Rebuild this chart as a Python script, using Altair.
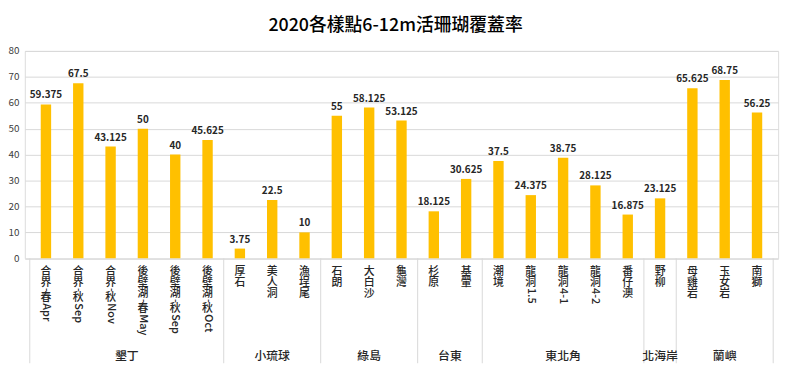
import altair as alt
import pandas as pd

title_text = "2020各樣點6-12m活珊瑚覆蓋率"

sites = ["合界-春Apr", "合界-秋Sep", "合界-秋Nov", "後壁湖-春May", "後壁湖-秋Sep", "後壁湖-秋Oct",
         "厚石", "美人洞", "漁埕尾",
         "石朗", "大白沙", "龜灣",
         "杉原", "基翬",
         "潮境", "龍洞1.5", "龍洞4-1", "龍洞4-2", "番仔澳",
         "野柳",
         "母雞岩", "玉女岩", "南獅"]
values = [59.375, 67.5, 43.125, 50, 40, 45.625,
          3.75, 22.5, 10,
          55, 58.125, 53.125,
          18.125, 30.625,
          37.5, 24.375, 38.75, 28.125, 16.875,
          23.125,
          65.625, 68.75, 56.25]
group_names = ["墾丁", "小琉球", "綠島", "台東", "東北角", "北海岸", "蘭嶼"]
group_sizes = [6, 3, 3, 2, 5, 1, 3]
y_ticks = [0, 10, 20, 30, 40, 50, 60, 70, 80]

FONT = "Noto Sans CJK TC"
W, H = 761, 209.5
N = len(sites)
LABEL_FS = 11

# bar table
bars = pd.DataFrame({
    "site": sites,
    "value": values,
    "x": [i + 0.5 for i in range(N)],
    "label": [f"{v:g}" for v in values],
})

# vertical (East-Asian style) site labels: CJK upright, latin runs rotated
wtab = {"A": .64, "p": .61, "r": .41, "S": .55, "e": .56, "N": .74, "o": .6, "v": .52,
        "M": .89, "a": .56, "y": .52, "O": .78, "c": .48, "t": .35, ".": .27, "-": .32}


def is_cjk(ch):
    return ord(ch) > 0x2E80


seg_rows = []
for i, s in enumerate(sites):
    off = 0.0
    run = ""
    for ch in s + "\0":
        if ch != "\0" and not is_cjk(ch):
            run += ch
            continue
        if run:
            seg_rows.append({"x": i + 0.5, "t": run, "kind": "latin", "ypx": H + 8 + off})
            off += sum(wtab.get(c, .57) for c in run) * LABEL_FS + 1
            run = ""
        if ch == "\0":
            break
        seg_rows.append({"x": i + 0.5, "t": ch, "kind": "cjk", "ypx": H + 8 + off})
        off += LABEL_FS
segs = pd.DataFrame(seg_rows)

# groups
bounds = [0]
for g in group_sizes:
    bounds.append(bounds[-1] + g)
groups = pd.DataFrame({
    "name": group_names,
    "xc": [(bounds[k] + bounds[k + 1]) / 2 for k in range(len(group_names))],
})
seps = pd.DataFrame({"b": bounds})

xscale = alt.Scale(domain=[0, N], nice=False, zero=False)
TXT = "#262626"

bar_layer = alt.Chart(bars).mark_bar(color="#FFC000", size=10.5).encode(
    x=alt.X("x:Q", scale=xscale, axis=None),
    y=alt.Y("value:Q", scale=alt.Scale(domain=[0, 80], nice=False),
            axis=alt.Axis(values=y_ticks, title=None, ticks=False, domain=False,
                          grid=True, gridColor="#d9d9d9", labelFont=FONT,
                          labelFontSize=10, labelColor="#404040", labelPadding=6)),
)
val_layer = alt.Chart(bars).mark_text(
    font=FONT, fontSize=10, fontWeight="bold", color=TXT,
    baseline="alphabetic", dy=-6
).encode(
    x=alt.X("x:Q", scale=xscale, axis=None),
    y=alt.Y("value:Q", scale=alt.Scale(domain=[0, 80], nice=False), axis=None),
    text="label:N",
)
cjk_layer = alt.Chart(segs).transform_filter(alt.datum.kind == "cjk").mark_text(
    font=FONT, fontSize=LABEL_FS, fontWeight=500, color=TXT, align="center", baseline="top"
).encode(
    x=alt.X("x:Q", scale=xscale, axis=None),
    y=alt.Y("ypx:Q", scale=None, axis=None),
    text="t:N",
)
lat_layer = alt.Chart(segs).transform_filter(alt.datum.kind == "latin").mark_text(
    font=FONT, fontSize=LABEL_FS, fontWeight=500, color=TXT, align="left", baseline="middle", angle=90
).encode(
    x=alt.X("x:Q", scale=xscale, axis=None),
    y=alt.Y("ypx:Q", scale=None, axis=None),
    text="t:N",
)
sep_layer = alt.Chart(seps).mark_rule(color="#d9d9d9", strokeWidth=1).encode(
    x=alt.X("b:Q", scale=xscale, axis=None),
    y=alt.value(H),
    y2=alt.value(H + 106),
)
grp_layer = alt.Chart(groups).mark_text(
    font=FONT, fontSize=12, fontWeight=500, color=TXT, align="center", baseline="middle"
).encode(
    x=alt.X("xc:Q", scale=xscale, axis=None),
    y=alt.value(H + 99),
    text="name:N",
)

chart = alt.layer(bar_layer, val_layer, sep_layer, cjk_layer, lat_layer, grp_layer).resolve_scale(
    y="independent"
).properties(
    width=W, height=H,
    title=alt.TitleParams(title_text, font=FONT, fontSize=18, fontWeight=500,
                          color="#000000", anchor="middle", dx=-6, offset=11),
    autosize=alt.AutoSizeParams(type="none"),
    padding={"left": 17, "top": 41.5, "right": 14, "bottom": 112},
).configure_view(stroke=None).configure(background="white")

chart.save("out.html", embed_options={"renderer": "svg", "actions": False})
